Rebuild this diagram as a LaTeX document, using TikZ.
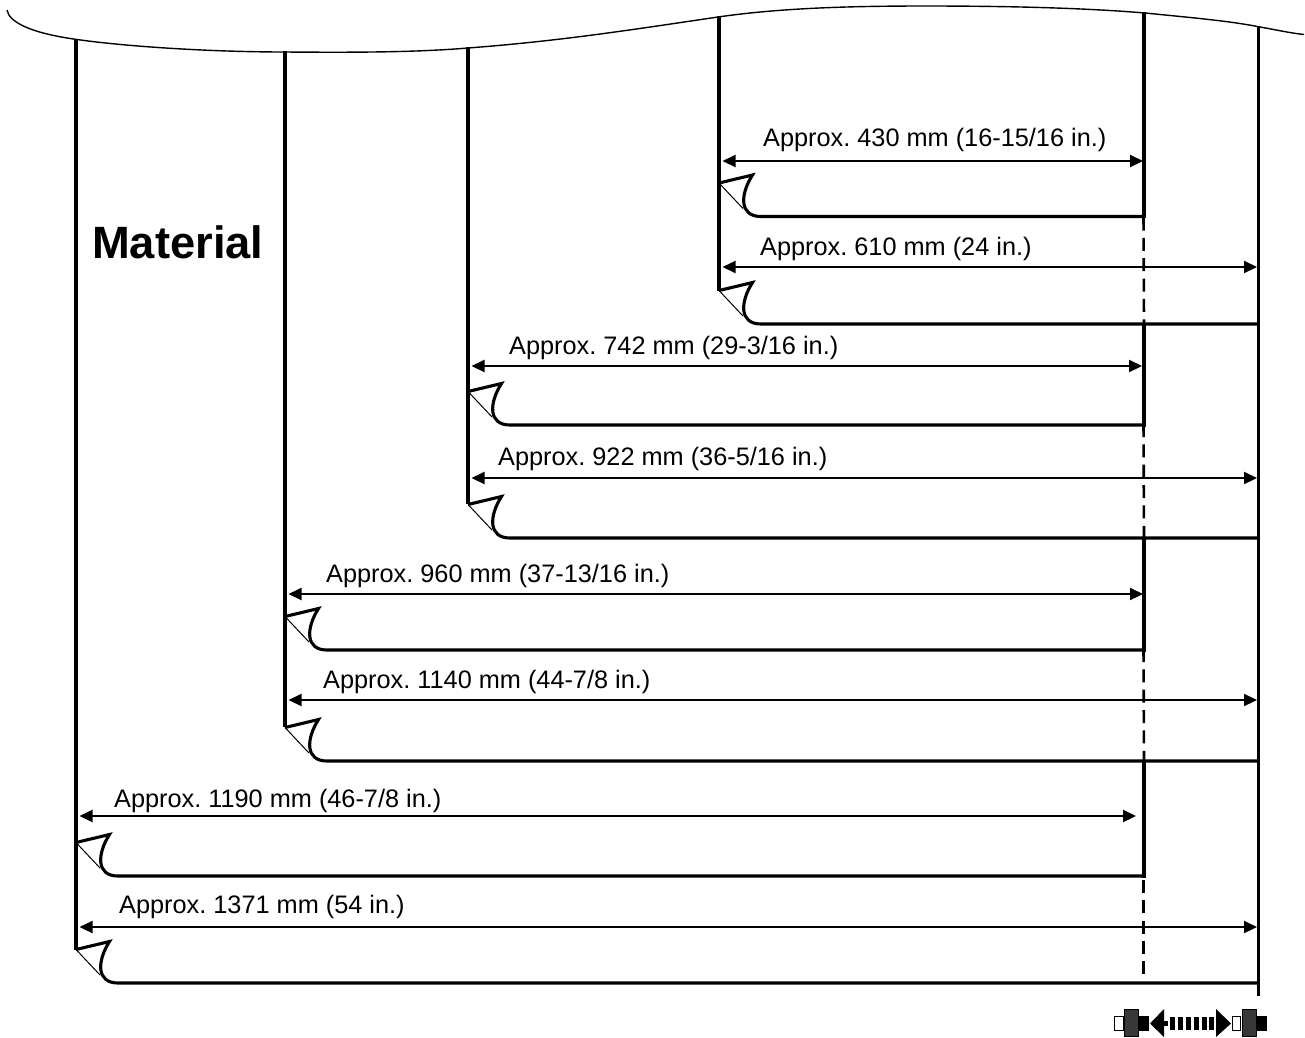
\documentclass[tikz,border=0pt]{standalone}
\usepackage{fontspec}
\setmainfont{Liberation Sans}
\usetikzlibrary{arrows.meta}
\frenchspacing
\tikzset{
  x=1pt,y=-1pt,
  wall/.style={line width=3.1pt,black},
  paperedge/.style={line width=3.1pt,black,line join=miter},
  foldline/.style={line width=1pt,black},
  measure/.style={line width=2pt,black,{Triangle[length=13pt,width=12pt]}-{Triangle[length=13pt,width=12pt]}},
  cut/.style={line width=2.6pt,black,dash pattern=on 13pt off 7.35pt},
  toplabel/.style={anchor=base west,inner sep=0pt,font=\fontsize{25.3}{27}\selectfont},
  bulk/.style={line width=1.4pt,black},
  iconwhite/.style={draw=black,line width=1pt,fill=white},
  icondark/.style={draw=black,line width=1pt,fill=black!78},
  iconblack/.style={fill=black},
}
% #1 id, #2 left x, #3 right x of the arrow tip, #4 arrow y, #5 bottom y, #6 right x of the edge, #7 text x, #8 baseline, #9 text
\newcommand{\sizerow}[9]{%
  \coordinate (a#1) at (#2+3.5,#4);
  \coordinate (b#1) at (#3,#4);
  \draw[measure] (a#1) -- (b#1);
  \node[toplabel] (t#1) at (#7,#8) {#9};
  \coordinate (c#1) at (#2,#5-33.5);
  \coordinate (d#1) at (#2+33.5,#5-41.5);
  \coordinate (e#1) at (#2+24,#5-8);
  \coordinate (f#1) at (#6,#5);
  \draw[paperedge] (c#1) -- (d#1) .. controls (#2+21,#5-22) and (#2+20,#5) .. (#2+42,#5) -- (f#1);
  \draw[foldline] (c#1) -- (e#1);
}
\begin{document}
\begin{tikzpicture}
\useasboundingbox (0,0) rectangle (1305,1037);
% top torn edge
\coordinate (s0) at (7,10);
\coordinate (s1) at (77,39.5);
\coordinate (s2) at (285,52);
\coordinate (s3) at (468,48);
\coordinate (s4) at (718,17);
\coordinate (s5) at (925,6);
\coordinate (s6) at (1145,13);
\coordinate (s7) at (1260,27);
\coordinate (s8) at (1304,34.5);
\draw[bulk] (s0) .. controls (9,22) and (30,33) .. (s1)
  .. controls (130,47) and (215,52) .. (s2)
  .. controls (350,52.5) and (415,52.5) .. (s3)
  .. controls (560,41) and (630,30) .. (s4)
  .. controls (780,8) and (850,6) .. (s5)
  .. controls (1010,6) and (1085,8) .. (s6)
  .. controls (1195,18) and (1230,21) .. (s7)
  .. controls (1277,30) and (1290,33) .. (s8);
% verticals
\coordinate (v1t) at (76,39.5);   \coordinate (v1b) at (76,950);
\coordinate (v2t) at (285,51);    \coordinate (v2b) at (285,727);
\coordinate (v3t) at (468,47);    \coordinate (v3b) at (468,504);
\coordinate (v4t) at (719,16);    \coordinate (v4b) at (719,290.5);
\coordinate (v5t) at (1144,12);   \coordinate (v5b) at (1144,218);
\coordinate (v6t) at (1258.5,26); \coordinate (v6b) at (1258.5,996);
\draw[wall] (v1t) -- (v1b);
\draw[wall] (v2t) -- (v2b);
\draw[wall] (v3t) -- (v3b);
\draw[wall] (v4t) -- (v4b);
\draw[wall] (v5t) -- (v5b);
\draw[wall] (v6t) -- (v6b);
% solid pieces of the right cut line
\coordinate (p1t) at (1144,324); \coordinate (p1b) at (1144,426.5);
\coordinate (p2t) at (1144,538); \coordinate (p2b) at (1144,651.5);
\coordinate (p3t) at (1144,761); \coordinate (p3b) at (1144,877.5);
\draw[wall] (p1t) -- (p1b);
\draw[wall] (p2t) -- (p2b);
\draw[wall] (p3t) -- (p3b);
% dashed pieces
\coordinate (q1) at (1143.5,217.5);
\coordinate (q2) at (1143.5,424);
\coordinate (q3) at (1143.5,649);
\coordinate (q4) at (1143.3,880);
\coordinate (dend) at (1143.3,974);
\draw[cut] (q1) -- (p1t);
\draw[cut] (q2) -- (p2t);
\draw[cut] (q3) -- (p3t);
\draw[cut] (q4) -- (dend);
% rows
\sizerow{1}{719}{1143}{161}{216.5}{1144}{763}{146}{Approx. 430 mm (16-15/16 in.)}
\sizerow{2}{719}{1257}{267}{324}{1258}{760}{255}{Approx. 610 mm (24 in.)}
\sizerow{3}{468}{1142}{366}{425}{1144}{509}{354}{Approx. 742 mm (29-3/16 in.)}
\sizerow{4}{468}{1257}{478}{538}{1258}{498}{465}{Approx. 922 mm (36-5/16 in.)}
\sizerow{5}{285}{1143}{594}{650}{1144}{326}{582}{Approx. 960 mm (37-13/16 in.)}
\sizerow{6}{285}{1257}{700}{761}{1258}{323}{688}{Approx. 1140 mm (44-7/8 in.)}
\sizerow{7}{76}{1136}{816}{876}{1144}{114}{807}{Approx. 1190 mm (46-7/8 in.)}
\sizerow{8}{76}{1257}{927}{983}{1258}{119}{913}{Approx. 1371 mm (54 in.)}
\node[anchor=base west,inner sep=0pt,font=\bfseries\fontsize{45.3}{48}\selectfont] (mat) at (92,258) {Material};
% feed symbol
\draw[iconwhite] (1114.5,1016.5) rectangle (1123.5,1030.5);
\draw[icondark] (1124.5,1009.5) rectangle (1138.5,1036.5);
\fill[iconblack] (1139,1016) rectangle (1149,1031);
\fill[iconblack] (1150,1023.5) -- (1164,1009) -- (1164,1037) -- cycle;
\fill[iconblack] (1164,1021) rectangle (1168,1026);
\foreach \dx in {1170,1178,1186,1194,1202,1209}
  \fill[iconblack] (\dx,1017) rectangle (\dx+5,1030);
\fill[iconblack] (1216,1009) -- (1231,1023.5) -- (1216,1037) -- cycle;
\draw[iconwhite] (1232.5,1016.5) rectangle (1240.5,1030.5);
\draw[icondark] (1242.5,1009.5) rectangle (1256.5,1036.5);
\fill[iconblack] (1257,1016) rectangle (1267,1031);
\end{tikzpicture}
\end{document}
